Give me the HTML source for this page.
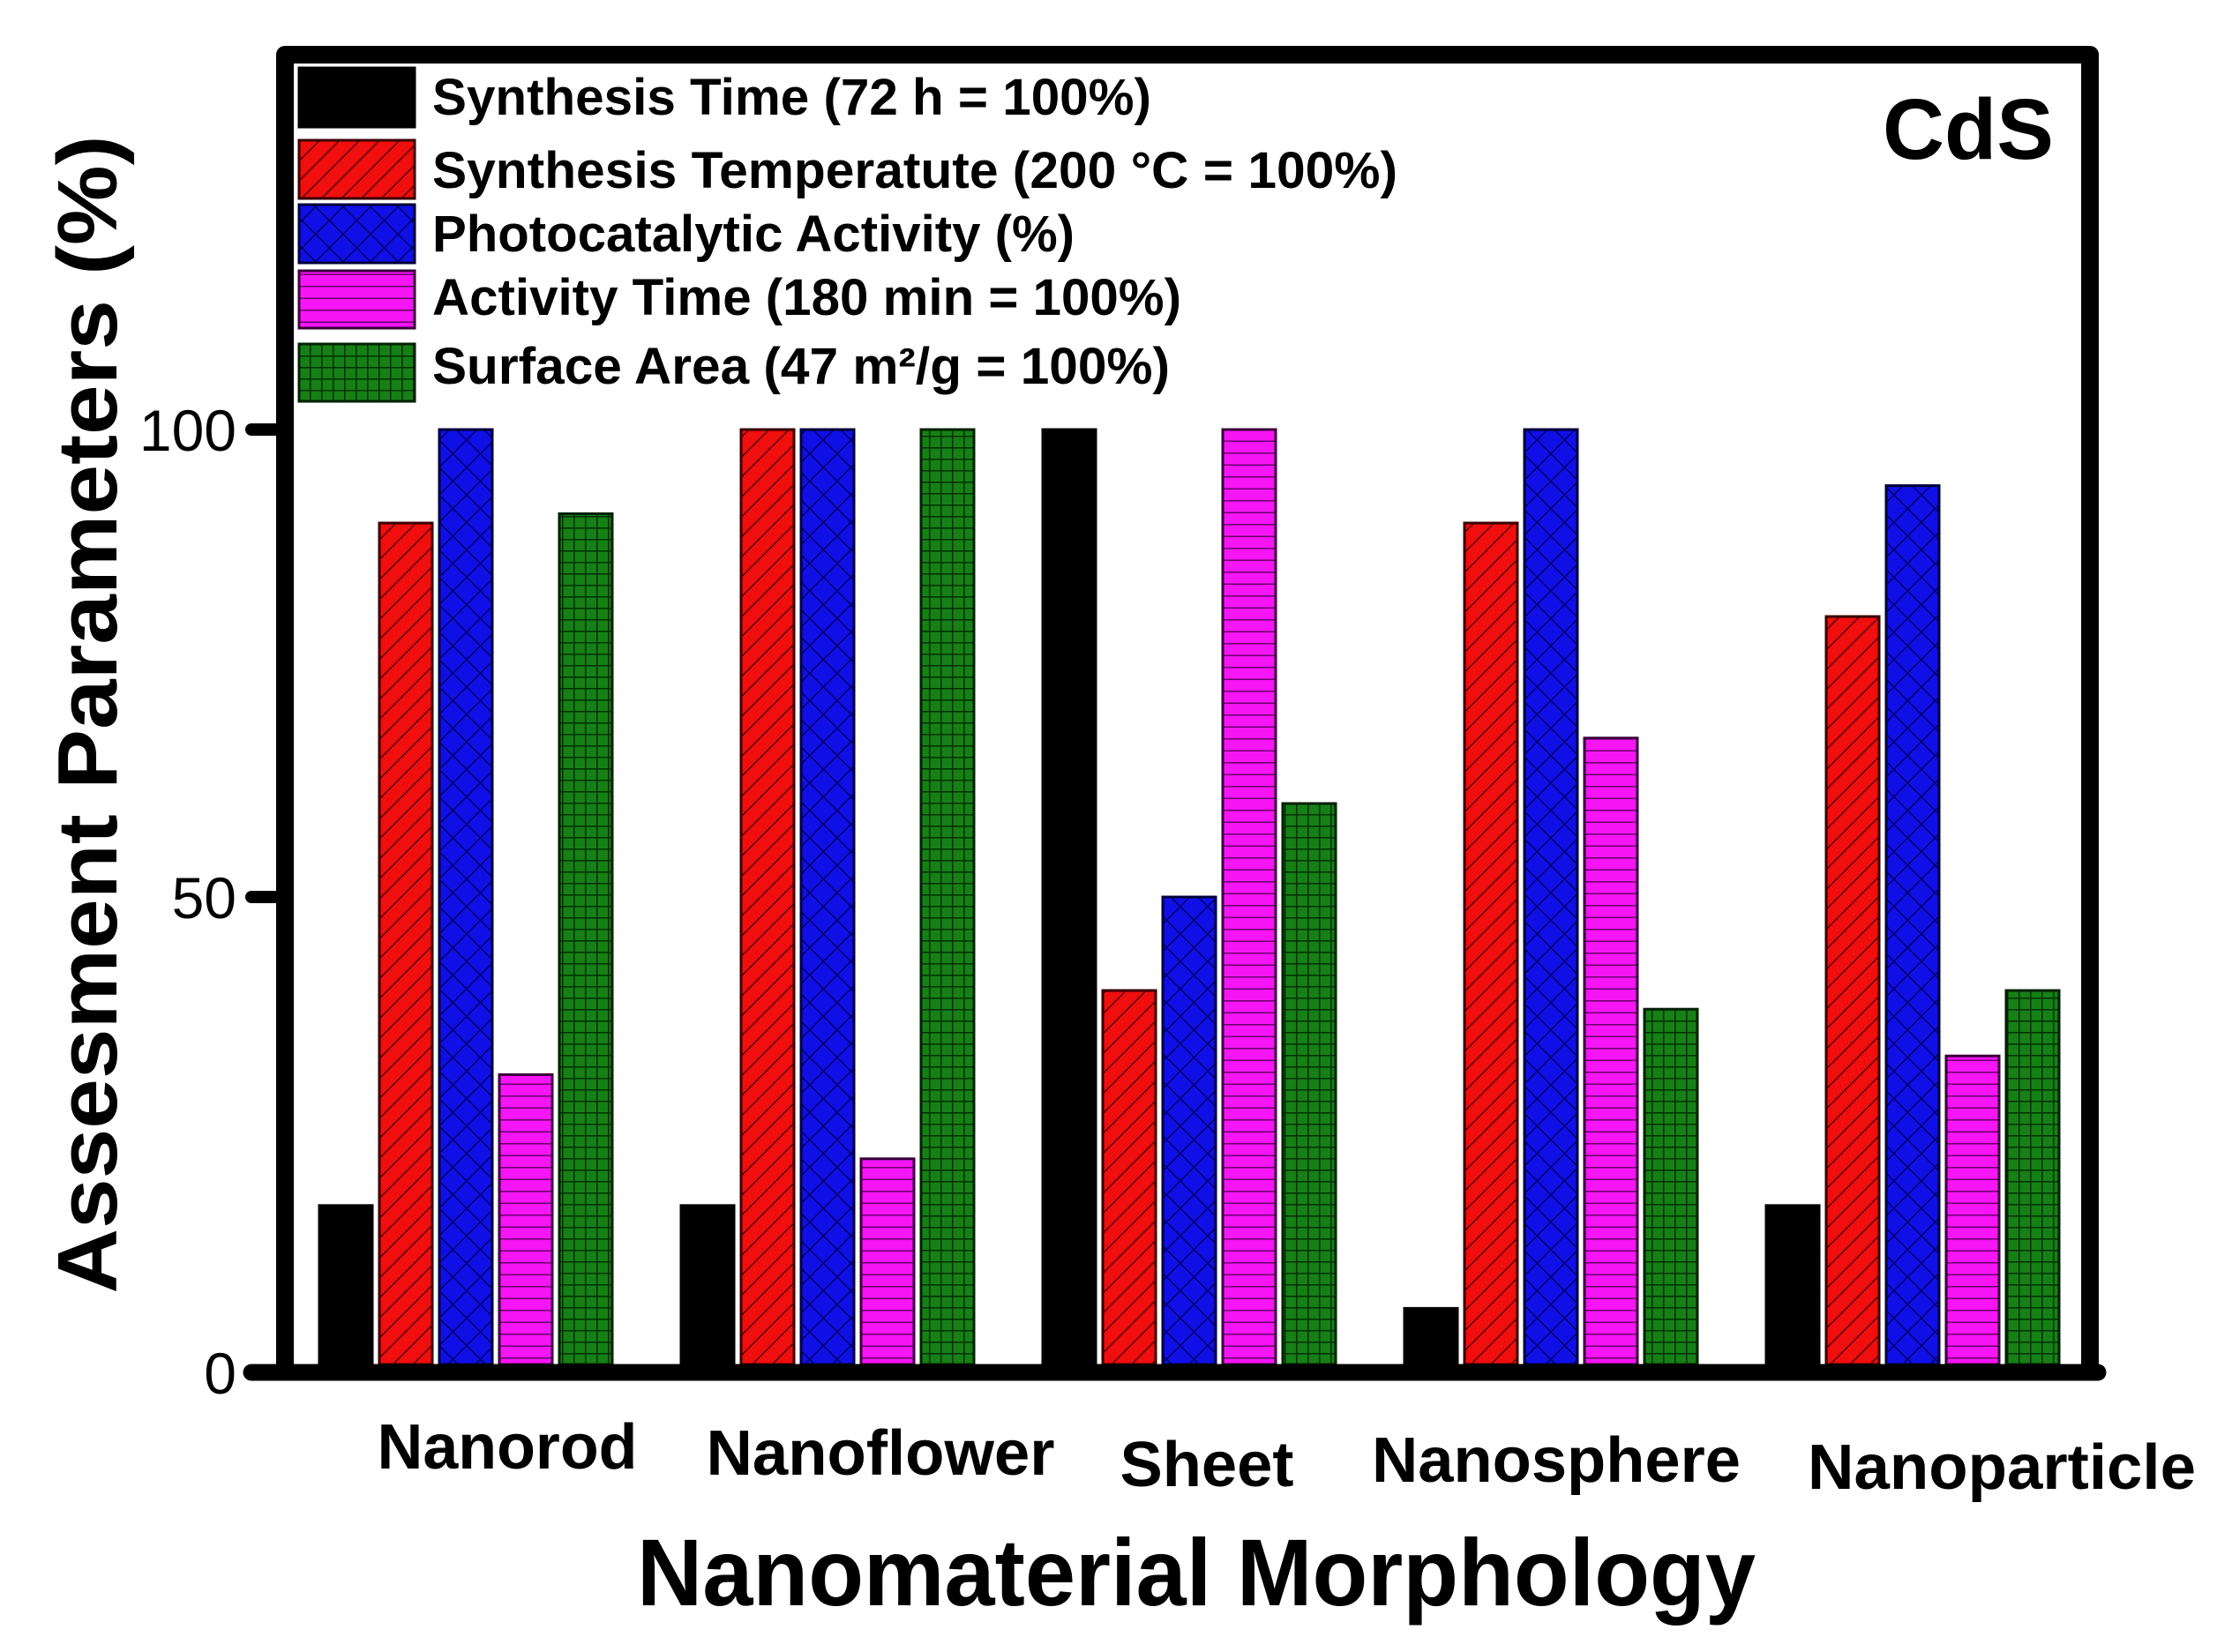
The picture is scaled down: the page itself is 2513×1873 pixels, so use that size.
<!DOCTYPE html>
<html><head><meta charset="utf-8"><style>
html,body{margin:0;padding:0;background:#fff;}
svg{display:block;font-family:"Liberation Sans",Arial,sans-serif;}
</style></head><body>
<svg id="chart" width="2513" height="1873" viewBox="0 0 2513 1873" xmlns="http://www.w3.org/2000/svg">
<defs>
<pattern id="p-red" patternUnits="userSpaceOnUse" width="16" height="16" patternTransform="rotate(45)">
<rect width="16" height="16" fill="#f00e0e"/><line x1="0" y1="0" x2="0" y2="16" stroke="#5a0000" stroke-width="3"/></pattern>
<pattern id="p-blue" patternUnits="userSpaceOnUse" width="22" height="22" patternTransform="rotate(45)">
<rect width="22" height="22" fill="#1010e6"/><line x1="0" y1="0" x2="22" y2="0" stroke="#00006a" stroke-width="3"/><line x1="0" y1="0" x2="0" y2="22" stroke="#00006a" stroke-width="3"/></pattern>
<pattern id="p-mag" patternUnits="userSpaceOnUse" width="20" height="13.5">
<rect width="20" height="13.5" fill="#f515f5"/><line x1="0" y1="0" x2="20" y2="0" stroke="#6a006a" stroke-width="3"/></pattern>
<pattern id="p-green" patternUnits="userSpaceOnUse" width="13" height="13">
<rect width="13" height="13" fill="#168016"/><line x1="0" y1="0" x2="13" y2="0" stroke="#003000" stroke-width="3"/><line x1="0" y1="0" x2="0" y2="13" stroke="#003000" stroke-width="3"/></pattern>
</defs>
<g id="bars"></g>
<g id="frame"></g>
<g id="legend"></g>
<text x="2231" y="180" font-size="97" font-weight="bold" text-anchor="middle">CdS</text>
<text transform="translate(132,810) rotate(-90)" font-size="96" font-weight="bold" text-anchor="middle" textLength="1313" lengthAdjust="spacingAndGlyphs">Assesment Parameters (%)</text>
<text x="1356" y="1820" font-size="108" font-weight="bold" text-anchor="middle" textLength="1268" lengthAdjust="spacingAndGlyphs">Nanomaterial Morphology</text>
</svg>
<script>
const categories = ["Nanorod","Nanoflower","Sheet","Nanosphere","Nanoparticle"];
const synthesisTime = [17, 17, 100, 6, 17];
const synthesisTemp = [90, 100, 40, 90, 80];
const photoActivity = [100, 100, 50, 100, 94];
const activityTime = [31, 22, 100, 67, 33];
const surfaceArea = [91, 100, 60, 38, 40];
const yTicks = [0, 50, 100];
const seriesNames = ["Synthesis Time (72 h = 100%)","Synthesis Temperatute (200 °C = 100%)","Photocatalytic Activity (%)","Activity Time (180 min = 100%)","Surface Area (47 m²/g = 100%)"];

const NS = "http://www.w3.org/2000/svg";
const y0 = 1547, pxPerUnit = 10.6;
function yScale(v){ return y0 - v * pxPerUnit; }
function xGroup(i){ return 362 + i * 410; }
const barW = 60, pitch = 68;
const fills = ["#000","url(#p-red)","url(#p-blue)","url(#p-mag)","url(#p-green)"];
const strokes = ["#000","#3a0000","#00003a","#3a003a","#002000"];
const seriesKeys = ["synthesis-time","synthesis-temperature","photocatalytic-activity","activity-time","surface-area"];
const allSeries = [synthesisTime, synthesisTemp, photoActivity, activityTime, surfaceArea];
function mk(tag, attrs, parent){
  const e = document.createElementNS(NS, tag);
  for (const k in attrs) e.setAttribute(k, attrs[k]);
  parent.appendChild(e); return e;
}
const gb = document.getElementById("bars");
allSeries.forEach((arr, s) => {
  arr.forEach((v, i) => {
    const x = xGroup(i) + s * pitch, yt = yScale(v);
    const r = mk("rect", {x: x, y: yt, width: barW, height: y0 - yt, fill: fills[s], stroke: strokes[s], "stroke-width": 3}, gb);
    
    
  });
});
const gf = document.getElementById("frame");
const fr = mk("path", {d: "M323 1556 L323 62 L2369 62 L2369 1556", fill: "none", stroke: "#000", "stroke-width": 20, "stroke-linejoin": "round"}, gf);


const xa = mk("line", {x1: 285, y1: 1556, x2: 2378, y2: 1556, stroke: "#000", "stroke-width": 19, "stroke-linecap": "round"}, gf);


yTicks.forEach(t => {
  const yy = t === 0 ? 1556 : yScale(t);
  const tk = mk("line", {x1: 285, y1: yy, x2: 323, y2: yy, stroke: "#000", "stroke-width": 14, "stroke-linecap": "round"}, gf);
  
  
  const tl = mk("text", {x: 268, y: yy + 24, "font-size": 66, "text-anchor": "end"}, gf);
  tl.textContent = String(t);
  
  
});
const catX = [575, 998, 1368, 1764, 2269];
const catY = [1665, 1672, 1685, 1680, 1688];
const catW = [295, 395, 197, 418, 440];
categories.forEach((c, i) => {
  const t = mk("text", {x: catX[i], y: catY[i], "font-size": 72, "font-weight": "bold", "text-anchor": "middle", textLength: catW[i], lengthAdjust: "spacingAndGlyphs"}, gf);
  t.textContent = c;
  
  
});
const gl = document.getElementById("legend");
const legY = [77, 159, 232, 307, 390];
const legH = [67, 66, 66, 65, 65];
const legBase = [130, 213, 285, 357, 435];
const legW = [815, 1094, 728, 849, 836];
seriesNames.forEach((n, s) => {
  const sw = mk("rect", {x: 339, y: legY[s], width: 131, height: legH[s], fill: fills[s], stroke: strokes[s], "stroke-width": 3}, gl);
  
  
  const t = mk("text", {x: 490, y: legBase[s], "font-size": 58, "font-weight": "bold", textLength: legW[s], lengthAdjust: "spacingAndGlyphs"}, gl);
  t.textContent = n;
  
  
});
</script>
</body></html>
